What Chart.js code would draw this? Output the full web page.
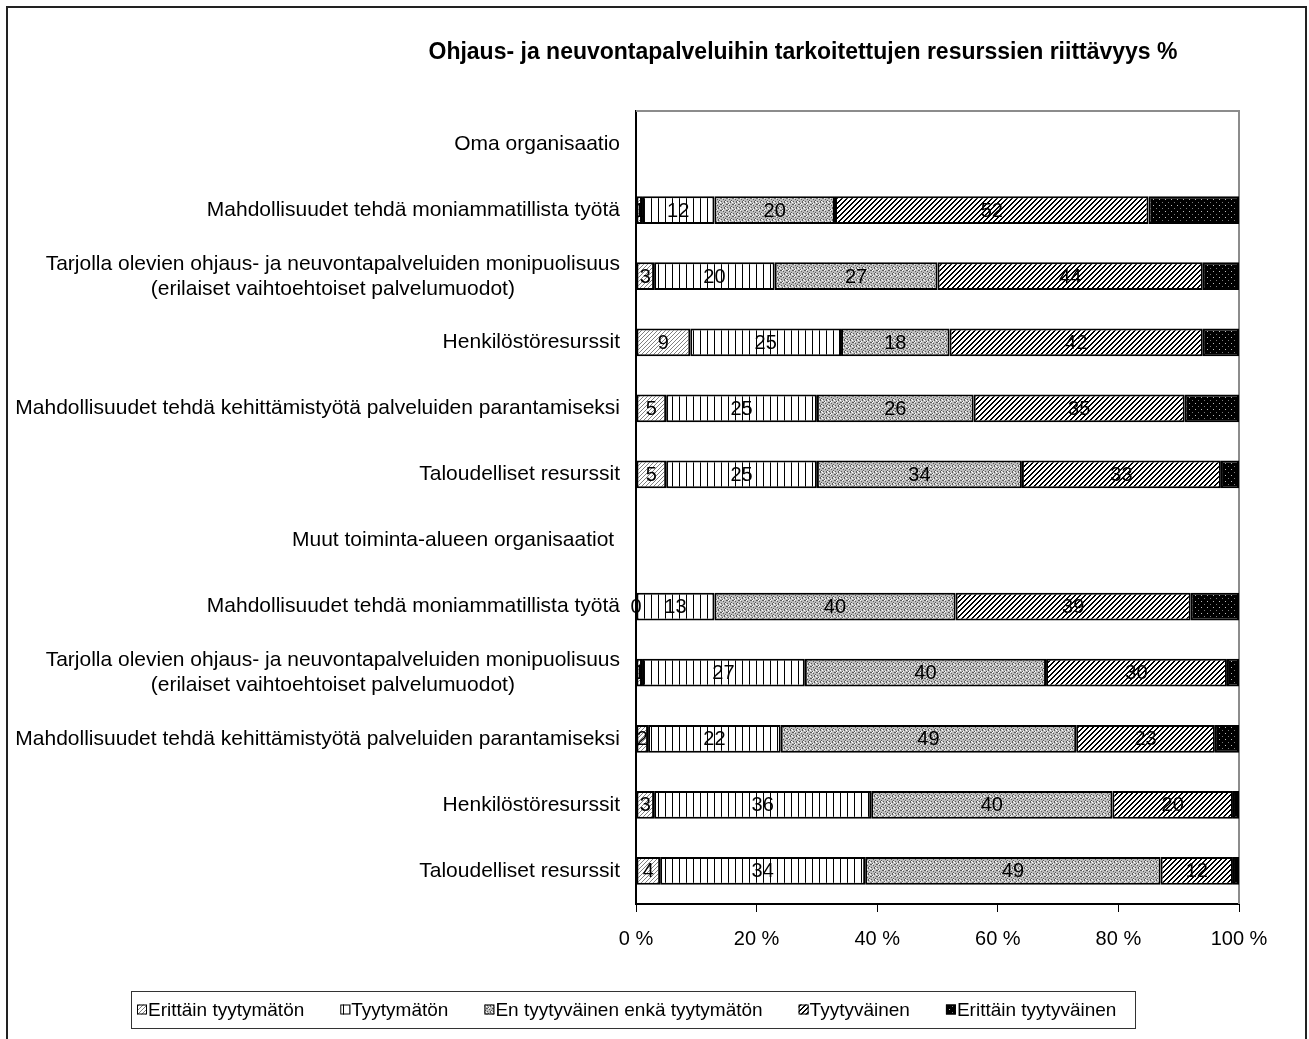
<!DOCTYPE html>
<html>
<head>
<meta charset="utf-8">
<script src="https://cdn.jsdelivr.net/npm/chart.js@4.4.0/dist/chart.umd.min.js"></script>
<style>
  html, body { margin: 0; padding: 0; background: #fff; }
  canvas { display: block; }
</style>
</head>
<body>
<canvas id="kaavio" width="1309" height="1039"></canvas>
<script>
// Otsikko ja kategoriat (ylhäältä alas)
const otsikko = 'Ohjaus- ja neuvontapalveluihin tarkoitettujen resurssien riittävyys %';
const kategoriat = [
  ['Oma organisaatio'],
  ['Mahdollisuudet tehdä moniammatillista työtä'],
  ['Tarjolla olevien ohjaus- ja neuvontapalveluiden monipuolisuus', '(erilaiset vaihtoehtoiset palvelumuodot)'],
  ['Henkilöstöresurssit'],
  ['Mahdollisuudet tehdä kehittämistyötä palveluiden parantamiseksi'],
  ['Taloudelliset resurssit'],
  ['Muut toiminta-alueen organisaatiot '],
  ['Mahdollisuudet tehdä moniammatillista työtä'],
  ['Tarjolla olevien ohjaus- ja neuvontapalveluiden monipuolisuus', '(erilaiset vaihtoehtoiset palvelumuodot)'],
  ['Mahdollisuudet tehdä kehittämistyötä palveluiden parantamiseksi'],
  ['Henkilöstöresurssit'],
  ['Taloudelliset resurssit']
];
const sarjat = ['Erittäin tyytymätön', 'Tyytymätön', 'En tyytyväinen enkä tyytymätön', 'Tyytyväinen', 'Erittäin tyytyväinen'];

// Arvot prosentteina (väliotsikkoriveillä ei palkkia)
const erittainTyytymaton  = [null, 1, 3, 9, 5, 5, null, 0, 1, 2, 3, 4];
const tyytymaton          = [null, 12, 20, 25, 25, 25, null, 13, 27, 22, 36, 34];
const neutraali           = [null, 20, 27, 18, 26, 34, null, 40, 40, 49, 40, 49];
const tyytyvainen         = [null, 52, 44, 42, 35, 33, null, 39, 30, 23, 20, 12];
const erittainTyytyvainen = [null, 15, 6, 6, 9, 3, null, 8, 2, 4, 1, 1];

const xTikit = [0, 20, 40, 60, 80, 100];

const FONTTI = '"Liberation Sans", Arial, sans-serif';
const canvas = document.getElementById('kaavio');
const ctx = canvas.getContext('2d');

// Kuviotäytöt kuten Excelissä
const teeKuvio = (koko, piirra) => {
  const c = document.createElement('canvas');
  c.width = koko; c.height = koko;
  const g = c.getContext('2d');
  piirra(g, koko);
  return ctx.createPattern(c, 'repeat');
};
const pikseli = (g, x, y, vari) => { g.fillStyle = vari; g.fillRect(x, y, 1, 1); };

const kuviot = [
  // vaalea vino viivoitus
  teeKuvio(4, (g, k) => {
    g.fillStyle = '#fff'; g.fillRect(0, 0, k, k);
    for (let i = 0; i < k; i++) pikseli(g, i, k - 1 - i, '#808080');
  }),
  // pystyviivat
  teeKuvio(7, (g, k) => {
    g.fillStyle = '#fff'; g.fillRect(0, 0, k, k);
    g.fillStyle = '#000'; g.fillRect(0, 0, 1, k);
  }),
  // harmaa pisterakenne
  teeKuvio(6, (g, k) => {
    g.fillStyle = '#bdbdbd'; g.fillRect(0, 0, k, k);
    [[0, 0], [3, 1], [1, 3], [4, 4], [2, 5], [5, 2], [1, 0], [4, 3]].forEach(p => pikseli(g, p[0], p[1], '#5a5a5a'));
    [[2, 0], [5, 3], [0, 4], [3, 5]].forEach(p => pikseli(g, p[0], p[1], '#ffffff'));
  }),
  // tummat vinoviivat
  teeKuvio(5, (g, k) => {
    g.fillStyle = '#fff'; g.fillRect(0, 0, k, k);
    for (let i = 0; i < k; i++) {
      pikseli(g, k - 1 - i, i, '#000');
      pikseli(g, (k - i) % k, i, '#000');
    }
  }),
  // musta, harvat vaaleat pisteet
  teeKuvio(6, (g, k) => {
    g.fillStyle = '#000'; g.fillRect(0, 0, k, k);
    pikseli(g, 1, 1, '#bdbdbd');
    pikseli(g, 4, 4, '#7a7a7a');
  })
];

const arvot = [erittainTyytymaton, tyytymaton, neutraali, tyytyvainen, erittainTyytyvainen];

const datasets = sarjat.map((nimi, i) => ({
  label: nimi,
  data: arvot[i],
  backgroundColor: kuviot[i],
  borderColor: '#000',
  borderWidth: 2,
  borderSkipped: false,
  categoryPercentage: 1,
  barPercentage: 0.42
}));

// Otsikko, kategorianimet, arvotekstit, legenda ja kehys
const piirtoLisa = {
  id: 'piirtoLisa',
  beforeDatasetsDraw(chart) {
    const { ctx, chartArea } = chart;
    ctx.save();
    ctx.strokeStyle = '#8c8c8c';
    ctx.lineWidth = 2;
    ctx.beginPath();
    ctx.moveTo(chartArea.left, chartArea.top);
    ctx.lineTo(chartArea.right, chartArea.top);
    ctx.lineTo(chartArea.right, chartArea.bottom);
    ctx.stroke();
    ctx.restore();
  },
  afterDatasetsDraw(chart) {
    const { ctx } = chart;
    ctx.save();
    ctx.font = '20px ' + FONTTI;
    ctx.fillStyle = '#000';
    ctx.textAlign = 'center';
    ctx.textBaseline = 'middle';
    for (let d = 0; d < 4; d++) {
      const meta = chart.getDatasetMeta(d);
      meta.data.forEach((el, i) => {
        const v = chart.data.datasets[d].data[i];
        if (v === null || v === undefined) return;
        ctx.fillText(String(v), (el.x + el.base) / 2, el.y + 1);
      });
    }
    ctx.restore();
  },
  afterDraw(chart) {
    const { ctx } = chart;
    const yAsteikko = chart.scales.y;
    ctx.save();
    ctx.fillStyle = '#000';
    ctx.textBaseline = 'middle';

    // otsikko
    ctx.font = 'bold 23px ' + FONTTI;
    ctx.textAlign = 'center';
    ctx.fillText(otsikko, 803, 53);

    // kategoriat: monirivinen keskitetään lohkona, lohko oikeaan reunaan
    ctx.font = '21px ' + FONTTI;
    const oikea = chart.chartArea.left - 16;
    const rivikorkeus = 25;
    kategoriat.forEach((rivit, i) => {
      const y = yAsteikko.getPixelForValue(i);
      const leveys = Math.max(...rivit.map(r => ctx.measureText(r).width));
      const keski = oikea - leveys / 2;
      const alku = y - (rivit.length - 1) * rivikorkeus / 2;
      rivit.forEach((r, j) => {
        ctx.textAlign = 'center';
        ctx.fillText(r, keski, alku + j * rivikorkeus);
      });
    });

    // legenda
    const lx = 131, ly = 991, lw = 1004, lh = 37;
    ctx.strokeStyle = '#333';
    ctx.lineWidth = 1;
    ctx.strokeRect(lx + 0.5, ly + 0.5, lw, lh);
    ctx.font = '19px ' + FONTTI;
    ctx.textAlign = 'left';
    let x = lx + 6;
    const ky = ly + lh / 2;
    chart.data.datasets.forEach((ds) => {
      ctx.fillStyle = ds.backgroundColor;
      ctx.fillRect(x, ky - 5, 10, 10);
      ctx.strokeStyle = '#000';
      ctx.strokeRect(x + 0.5, ky - 4.5, 9, 9);
      ctx.fillStyle = '#000';
      ctx.fillText(ds.label, x + 11, ky + 1);
      x += 11 + ctx.measureText(ds.label).width + 36;
    });

    // ulkokehys
    ctx.strokeStyle = '#222';
    ctx.lineWidth = 2;
    ctx.beginPath();
    ctx.moveTo(7, 1045);
    ctx.lineTo(7, 7);
    ctx.lineTo(1306, 7);
    ctx.lineTo(1306, 1045);
    ctx.stroke();
    ctx.restore();
  }
};

new Chart(ctx, {
  type: 'bar',
  data: { labels: kategoriat, datasets: datasets },
  options: {
    indexAxis: 'y',
    responsive: false,
    animation: false,
    layout: { padding: { left: 636, right: 70, top: 111, bottom: 73 } },
    plugins: {
      legend: { display: false },
      title: { display: false },
      tooltip: { enabled: false }
    },
    scales: {
      x: {
        stacked: true,
        min: 0,
        max: 100,
        afterBuildTicks: (s) => { s.ticks = xTikit.map(v => ({ value: v })); },
        ticks: {
          color: '#000',
          padding: 15,
          font: { family: FONTTI, size: 20 },
          callback: (v) => v + ' %',
          maxRotation: 0
        },
        grid: { drawOnChartArea: false, drawTicks: true, tickLength: 8, color: '#000', lineWidth: 1 },
        border: { display: true, color: '#000', width: 2 }
      },
      y: {
        stacked: true,
        ticks: { display: false },
        grid: { display: false, drawTicks: false },
        border: { display: true, color: '#000', width: 2 }
      }
    }
  },
  plugins: [piirtoLisa]
});
</script>
</body>
</html>
